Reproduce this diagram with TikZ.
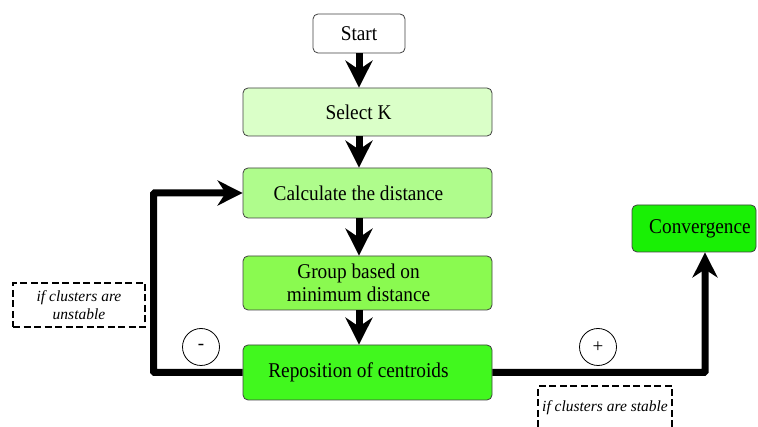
\documentclass[tikz,border=0pt]{standalone}
\usepackage{fontspec}
\setmainfont{Liberation Serif}
\newfontfamily\boxfont{Liberation Serif}[FakeStretch=0.92]
\usepackage{tikz}
\usetikzlibrary{positioning, arrows.meta, calc}

\definecolor{kgreenA}{RGB}{218,255,200}
\definecolor{kgreenB}{RGB}{175,252,140}
\definecolor{kgreenC}{RGB}{138,250,80}
\definecolor{kgreenD}{RGB}{65,248,30}
\definecolor{kgreenE}{RGB}{25,240,5}

% text in the green boxes sits left of the box centre
\newcommand{\txtleft}{\hspace*{-18pt}}

\begin{document}
\begin{tikzpicture}[
    x=1pt, y=-1pt,
    stepbox/.style={
        rectangle, rounded corners=5pt,
        minimum width=249pt, inner sep=2pt,
        draw=black!75, line width=0.8pt, align=center,
        font=\boxfont\fontsize{21}{23.5}\selectfont
    },
    note/.style={
        rectangle, draw=black, line width=1.6pt,
        dash pattern=on 7pt off 3.5pt,
        minimum width=132pt, minimum height=44pt, align=center,
        font=\itshape\fontsize{15.5}{18}\selectfont
    },
    sign/.style={
        circle, draw=black, line width=0.8pt,
        minimum size=37pt, inner sep=0pt,
        font=\fontsize{19}{21}\selectfont
    },
    mainflow/.style={-{Stealth[length=27pt, width=27pt, inset=9pt]}, line width=7pt},
    loopflow/.style={-{Stealth[length=25pt, width=25pt, inset=8pt]}, line width=7pt}
]

\useasboundingbox (0,0) rectangle (758,427);

% === Main column ===
\node[stepbox, fill=white, minimum width=92pt, minimum height=39pt] (start) at (359,33.5) {Start};
\node[stepbox, fill=kgreenA, minimum height=48pt] (selectk) at (367.5,112) {\txtleft Select K};
\node[stepbox, fill=kgreenB, minimum height=50pt] (calc) at (367.5,193) {\txtleft Calculate the distance};
\node[stepbox, fill=kgreenC, minimum height=54pt] (group) at (367.5,283) {\txtleft Group based on\\\txtleft minimum distance};
\node[stepbox, fill=kgreenD, minimum height=55pt] (repos) at (367.5,372.5) {\txtleft Reposition of centroids};

% Convergence
\node[stepbox, fill=kgreenE, minimum width=124pt, minimum height=47pt] (conv) at (694,228.5) {\hspace*{12pt}Convergence};

% Main flow arrows
\draw[mainflow] (start.south) -- (start |- selectk.north);
\draw[mainflow] (selectk.south -| start) -- (calc.north -| start);
\draw[mainflow] (calc.south -| start) -- (group.north -| start);
\draw[mainflow] (group.south -| start) -- (repos.north -| start);

% === Feedback ===
\draw[loopflow, rounded corners=1pt] (repos.west) -- ++(-89,0) |- (calc.west);
\draw[loopflow, rounded corners=1pt] (repos.east) -| ([xshift=11pt]conv.south);

% Signs
\node[sign] (minus) at (201,347) {-};
\node[sign] (plus) at (598,347) {+};

% Conditions
\node[note] (unstable) at (79,305) {if clusters are\\unstable};
\node[note, minimum width=134pt] (stable) at (605,408) {if clusters are stable};

\end{tikzpicture}
\end{document}
